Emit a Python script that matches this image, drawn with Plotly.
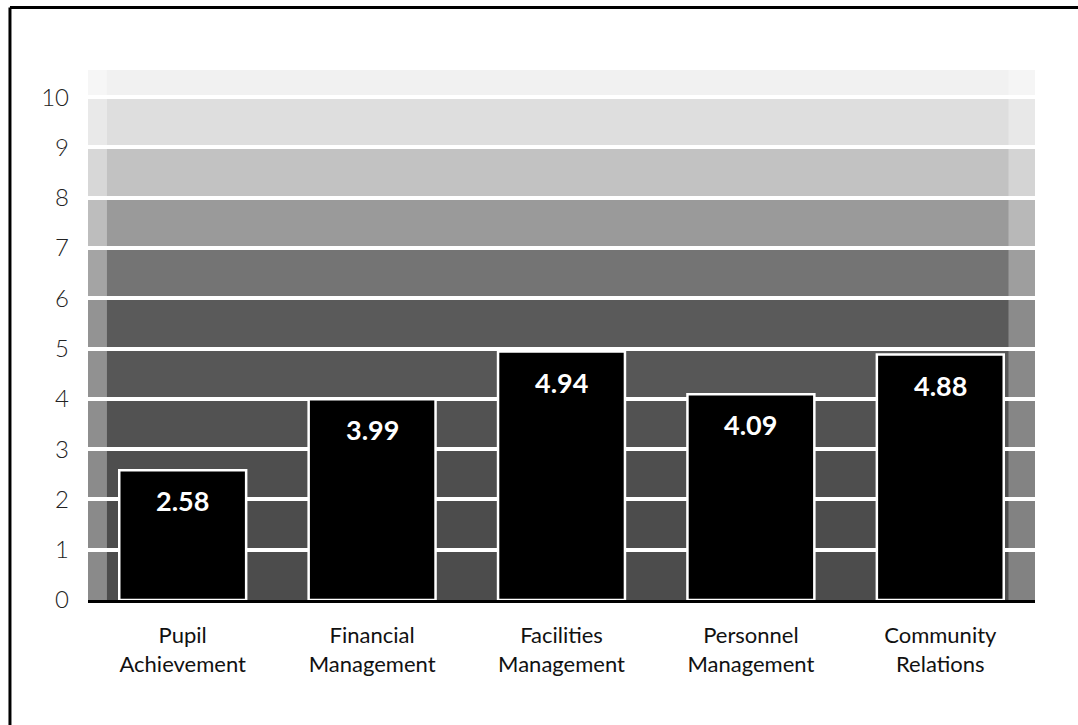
import plotly.graph_objects as go

categories = ["Pupil<br>Achievement", "Financial<br>Management", "Facilities<br>Management",
              "Personnel<br>Management", "Community<br>Relations"]
values = [2.58, 3.99, 4.94, 4.09, 4.88]
value_labels = ["2.58", "3.99", "4.94", "4.09", "4.88"]
y_ticks = [0, 1, 2, 3, 4, 5, 6, 7, 8, 9, 10]
y_ticklabels = ["0", "1", "2", "3", "4", "5", "6", "7", "8", "9", "10"]

# background band shading (lower bands darker, top fades to white)
band_lows = [0, 1, 2, 3, 4, 5, 6, 7, 8, 9, 10]
band_highs = [1, 2, 3, 4, 5, 6, 7, 8, 9, 10, 10.54]
band_colors = ["#4c4c4c", "#4c4c4c", "#4e4e4e", "#525252", "#575757", "#5a5a5a",
               "#747474", "#9a9a9a", "#c2c2c2", "#dedede", "#f1f1f1"]

FONT = "Lato"

fig = go.Figure()
fig.add_trace(go.Bar(
    x=categories, y=values,
    marker=dict(color="black", line=dict(color="white", width=2.5)),
    hoverinfo="skip",
))

# value labels inside bars near top
for c, v, t in zip(categories, values, value_labels):
    fig.add_annotation(x=c, y=v, text=t, showarrow=False, yanchor="top", yshift=-12,
                       font=dict(family=FONT, size=27, color="white", weight="bold"))

shapes = []
for lo, hi, col in zip(band_lows, band_highs, band_colors):
    shapes.append(dict(type="rect", xref="paper", yref="y", x0=0, x1=1, y0=lo, y1=hi,
                       fillcolor=col, line=dict(width=0), layer="below"))
# soft fade at left and right edges of texture
shapes.append(dict(type="rect", xref="paper", yref="paper", x0=0, x1=0.02, y0=0, y1=1,
                   fillcolor="rgba(255,255,255,0.35)", line=dict(width=0), layer="below"))
shapes.append(dict(type="rect", xref="paper", yref="paper", x0=0.972, x1=1, y0=0, y1=1,
                   fillcolor="rgba(255,255,255,0.3)", line=dict(width=0), layer="below"))
# outer frame (left and top edges visible)
shapes.append(dict(type="line", xref="paper", yref="paper", x0=-0.0824, x1=-0.0824,
                   y0=-0.3, y1=1.118, line=dict(color="black", width=3), layer="above"))
shapes.append(dict(type="line", xref="paper", yref="paper", x0=-0.0824, x1=1.1,
                   y0=1.118, y1=1.118, line=dict(color="black", width=3), layer="above"))

fig.update_layout(
    width=1078, height=725,
    margin=dict(l=88, r=43, t=70, b=125),
    paper_bgcolor="white", plot_bgcolor="white",
    showlegend=False, bargap=0.33,
    shapes=shapes,
    font=dict(family=FONT, color="#111"),
    xaxis=dict(showgrid=False, showline=True, linecolor="black", linewidth=3,
               ticks="", tickfont=dict(family=FONT, size=22, color="#111"),
               ticklabelstandoff=14, layer="above traces"),
    yaxis=dict(range=[0, 10.54], tickvals=y_ticks, ticktext=y_ticklabels,
               showgrid=True, gridcolor="white", gridwidth=4, zeroline=False,
               showline=False, ticks="",
               tickfont=dict(family=FONT, size=24, color="#222", weight=300),
               ticklabelstandoff=18),
)

fig.write_html("out.html")
